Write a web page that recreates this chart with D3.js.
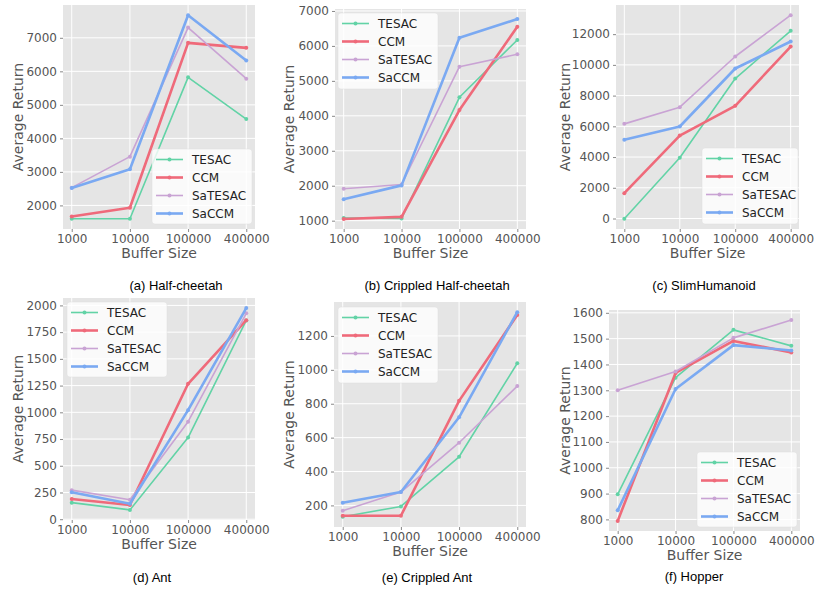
<!DOCTYPE html>
<html>
<head>
<meta charset="utf-8">
<script src="https://cdn.jsdelivr.net/npm/d3@7"></script>
<style>
  html, body { margin: 0; padding: 0; background: #ffffff; }
  svg { display: block; }
</style>
</head>
<body>
<svg id="chart" width="817" height="593"></svg>
<script>
// ---------------- DATA ----------------
const bufferSizes = ["1000", "10000", "100000", "400000"];
const methods = ["TESAC", "CCM", "SaTESAC", "SaCCM"];

// each panel: values per method (TESAC, CCM, SaTESAC, SaCCM), per buffer size
const halfCheetah = [
  [1600, 1600, 5820, 4575],
  [1670, 1930, 6850, 6700],
  [2530, 3455, 7305, 5780],
  [2520, 3080, 7675, 6325]
];
const crippledHalfCheetah = [
  [1075, 1065, 4530, 6170],
  [1048, 1110, 4165, 6550],
  [1915, 2035, 5405, 5760],
  [1610, 2010, 6235, 6770]
];
const slimHumanoid = [
  [-20, 3950, 9110, 12215],
  [1650, 5400, 7335, 11195],
  [6160, 7245, 10545, 13235],
  [5120, 5990, 9765, 11520]
];
const ant = [
  [155, 87, 764, 1860],
  [189, 133, 1267, 1862],
  [272, 182, 912, 1926],
  [253, 145, 1020, 1975]
];
const crippledAnt = [
  [133, 194, 487, 1039],
  [139, 139, 817, 1324],
  [169, 279, 570, 904],
  [216, 279, 720, 1340]
];
const hopper = [
  [897, 1349, 1534, 1472],
  [794, 1367, 1491, 1446],
  [1300, 1373, 1503, 1572],
  [835, 1305, 1475, 1454]
];

const ticksA = [2000, 3000, 4000, 5000, 6000, 7000];
const ticksB = [1000, 2000, 3000, 4000, 5000, 6000, 7000];
const ticksC = [0, 2000, 4000, 6000, 8000, 10000, 12000];
const ticksD = [0, 250, 500, 750, 1000, 1250, 1500, 1750, 2000];
const ticksE = [200, 400, 600, 800, 1000, 1200];
const ticksF = [800, 900, 1000, 1100, 1200, 1300, 1400, 1500, 1600];

const captions = ["(a) Half-cheetah", "(b) Crippled Half-cheetah", "(c) SlimHumanoid",
                  "(d) Ant", "(e) Crippled Ant", "(f) Hopper"];
const xLabel = "Buffer Size";
const yLabel = "Average Return";

// ---------------- STYLE / LAYOUT ----------------
const colors = ["#62d3a6", "#ef6a7a", "#c9a3d4", "#7aa9f2"];
const widths = [1.6, 2.6, 1.6, 2.6];

const panels = [
  { data: halfCheetah, ticks: ticksA, rect: [63, 5, 255, 229], ylx: 18, cap: [176, 285], leg: [152, 149, 100, 75] },
  { data: crippledHalfCheetah, ticks: ticksB, rect: [335, 9, 526, 229], ylx: 289, cap: [437, 285], leg: [338, 13, 100, 76] },
  { data: slimHumanoid, ticks: ticksC, rect: [616, 5, 799, 229], ylx: 565, cap: [704, 285], leg: [702, 148, 96, 76] },
  { data: ant, ticks: ticksD, rect: [63, 298, 255, 520], ylx: 18, cap: [152, 577], leg: [67, 302, 100, 75] },
  { data: crippledAnt, ticks: ticksE, rect: [334, 302, 526, 527], ylx: 289, cap: [427, 577], leg: [338, 307, 100, 76] },
  { data: hopper, ticks: ticksF, rect: [609, 310, 800, 531], ylx: 565, cap: [694, 576], leg: [697, 452, 100, 75] }
];

const svg = d3.select("#chart");
const FONT = "'DejaVu Sans', sans-serif";

panels.forEach((p, pi) => {
  const [x0, y0, x1, y1] = p.rect;
  const g = svg.append("g");

  const x = d3.scalePoint().domain(bufferSizes).range([x0, x1]).padding(0.15);
  const all = p.data.flat();
  const [mn, mx] = d3.extent(all);
  const m = (mx - mn) * 0.05;
  const y = d3.scaleLinear().domain([mn - m, mx + m]).range([y1, y0]);

  // background
  g.append("rect").attr("x", x0).attr("y", y0).attr("width", x1 - x0).attr("height", y1 - y0)
    .attr("fill", "#e5e5e5");

  // grid
  g.selectAll(".gy").data(p.ticks).enter().append("line")
    .attr("x1", x0).attr("x2", x1)
    .attr("y1", d => y(d)).attr("y2", d => y(d))
    .attr("stroke", "#ffffff").attr("stroke-width", 1);
  g.selectAll(".gx").data(bufferSizes).enter().append("line")
    .attr("x1", d => x(d)).attr("x2", d => x(d))
    .attr("y1", y0).attr("y2", y1)
    .attr("stroke", "#ffffff").attr("stroke-width", 1);

  // axes
  const yAxis = d3.axisLeft(y).tickValues(p.ticks).tickFormat(d3.format("d")).tickSize(3).tickPadding(3);
  const ya = g.append("g").attr("transform", `translate(${x0},0)`).call(yAxis);
  const xAxis = d3.axisBottom(x).tickSize(3).tickPadding(2);
  const xa = g.append("g").attr("transform", `translate(0,${y1})`).call(xAxis);
  [ya, xa].forEach(a => {
    a.attr("font-family", null).attr("font-size", null);
    a.select(".domain").remove();
    a.selectAll(".tick line").attr("stroke", "#888");
    a.selectAll(".tick text").attr("fill", "#555").style("font-family", FONT).style("font-size", "12px");
  });

  // lines
  const line = d3.line().x((d, i) => x(bufferSizes[i])).y(d => y(d));
  p.data.forEach((vals, si) => {
    g.append("path").datum(vals).attr("d", line)
      .attr("fill", "none").attr("stroke", colors[si]).attr("stroke-width", widths[si])
      .attr("stroke-linejoin", "round");
    g.selectAll(null).data(vals).enter().append("circle")
      .attr("cx", (d, i) => x(bufferSizes[i])).attr("cy", d => y(d)).attr("r", 2)
      .attr("fill", colors[si]);
  });

  // labels
  g.append("text").attr("x", (x0 + x1) / 2).attr("y", y1 + 24)
    .attr("text-anchor", "middle").attr("dominant-baseline", "central")
    .attr("fill", "#555").style("font-family", FONT).style("font-size", "14px").text(xLabel);
  g.append("text").attr("transform", `translate(${p.ylx},${(y0 + y1) / 2}) rotate(-90)`)
    .attr("text-anchor", "middle").attr("dominant-baseline", "central")
    .attr("fill", "#555").style("font-family", FONT).style("font-size", "14px").text(yLabel);

  // caption
  svg.append("text").attr("x", p.cap[0]).attr("y", p.cap[1])
    .attr("text-anchor", "middle").attr("dominant-baseline", "central")
    .attr("fill", "#000").style("font-family", "'Liberation Sans', Arial, sans-serif")
    .style("font-size", "13px").text(captions[pi]);

  // legend
  const [lx, ly, lw, lh] = p.leg;
  const lg = g.append("g");
  lg.append("rect").attr("x", lx).attr("y", ly).attr("width", lw).attr("height", lh)
    .attr("rx", 3).attr("fill", "#ffffff").attr("fill-opacity", 0.8)
    .attr("stroke", "#e0e0e0").attr("stroke-opacity", 0.5);
  methods.forEach((name, si) => {
    const cy = ly + 10.5 + si * 18;
    lg.append("line").attr("x1", lx + 4).attr("x2", lx + 31).attr("y1", cy).attr("y2", cy)
      .attr("stroke", colors[si]).attr("stroke-width", widths[si]);
    lg.append("circle").attr("cx", lx + 17.5).attr("cy", cy).attr("r", 2).attr("fill", colors[si]);
    lg.append("text").attr("x", lx + 40).attr("y", cy).attr("dominant-baseline", "central")
      .attr("fill", "#222").style("font-family", FONT).style("font-size", "12px").text(name);
  });
});
</script>
</body>
</html>
